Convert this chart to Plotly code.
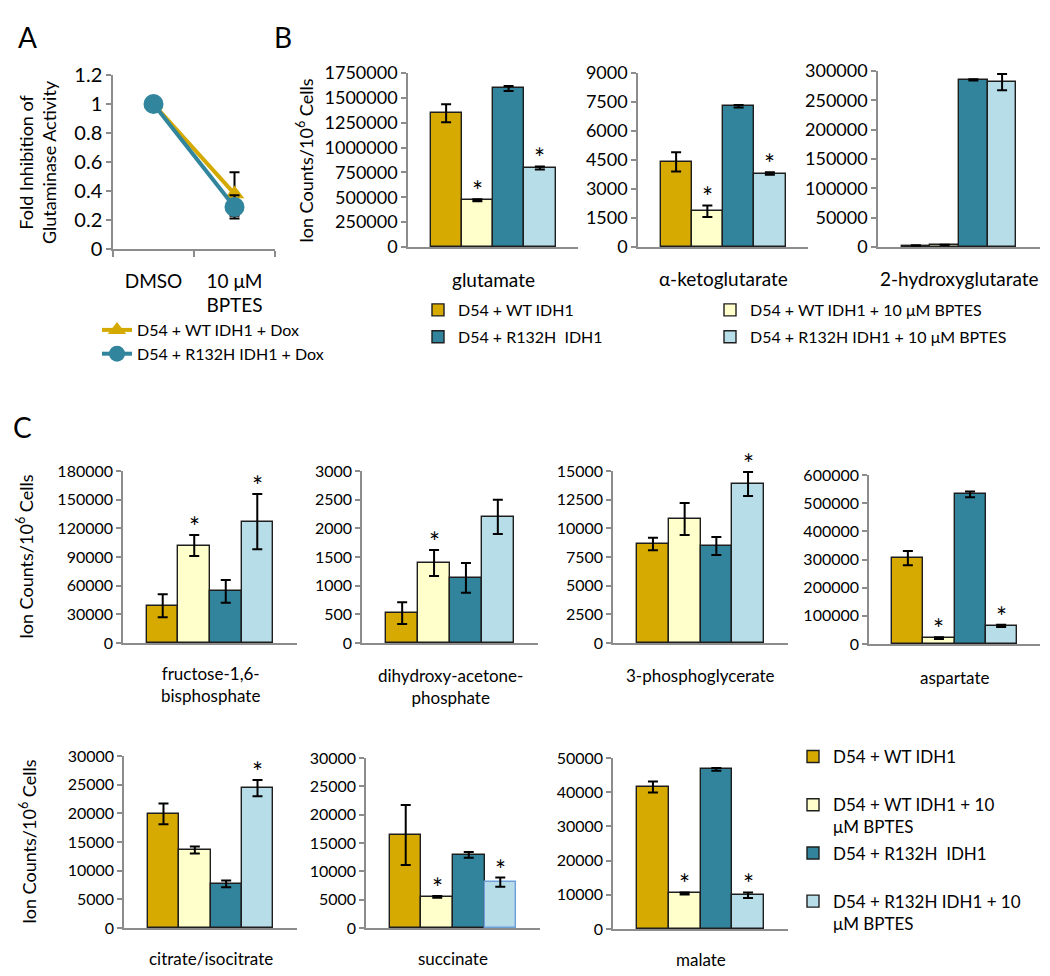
import plotly.graph_objects as go

W, H = 1050, 976
FONT = "Lato"
AXIS_GRAY = "#8c8c8c"

# ---------------- data ----------------
groups = ["D54 + WT IDH1", "D54 + WT IDH1 + 10 μM BPTES",
          "D54 + R132H  IDH1", "D54 + R132H IDH1 + 10 μM BPTES"]
c_legend_names = ["D54 + WT IDH1", "D54 + WT IDH1 + 10<br>μM BPTES",
                  "D54 + R132H  IDH1", "D54 + R132H IDH1 + 10<br>μM BPTES"]
group_colors = ["#D6AA00", "#FFFFCC", "#31849B", "#B7DEE8"]

# Panel A
a_conditions = ["DMSO", "10 μM BPTES"]
a_ticklabels = ["DMSO", "10 μM<br>BPTES"]
a_series = ["D54 + WT IDH1 + Dox", "D54 + R132H IDH1 + Dox"]
a_wt = [1.0, 0.38]
a_wt_err = [0.0, 0.15]
a_r132h = [1.0, 0.29]
a_r132h_err = [0.0, 0.08]

# Panel B
glutamate = [1345000, 470000, 1595000, 795000]
glutamate_err = [90000, 10000, 25000, 15000]
glutamate_sig = [0, 1, 0, 1]
akg = [4400, 1850, 7280, 3800]
akg_err = [500, 300, 60, 60]
akg_sig = [0, 1, 0, 1]
hg2 = [2500, 3500, 285000, 281000]
hg2_err = [300, 500, 1000, 14000]
hg2_sig = [0, 0, 0, 0]

# Panel C
f16bp = [39000, 102000, 54000, 127000]
f16bp_err = [12000, 11000, 12000, 29000]
f16bp_sig = [0, 1, 0, 1]
dhap = [520, 1395, 1135, 2200]
dhap_err = [190, 225, 260, 300]
dhap_sig = [0, 1, 0, 0]
pg3 = [8630, 10810, 8460, 13870]
pg3_err = [550, 1400, 780, 1050]
pg3_sig = [0, 0, 0, 1]
aspartate = [305000, 21000, 531000, 64000]
aspartate_err = [25000, 3000, 10000, 4000]
aspartate_sig = [0, 1, 0, 1]
citrate = [19900, 13600, 7700, 24400]
citrate_err = [1800, 600, 600, 1400]
citrate_sig = [0, 0, 0, 1]
succinate = [16400, 5500, 12900, 8100]
succinate_err = [5300, 150, 500, 800]
succinate_sig = [0, 1, 0, 1]
malate = [41500, 10400, 46700, 9900]
malate_err = [1600, 300, 400, 800]
malate_sig = [0, 1, 0, 1]

# ---------------- layout helpers ----------------
def dx(a, b):
    return [a / W, b / W]

def dy(top, bot):
    return [1 - bot / H, 1 - top / H]

def py(v):
    return 1 - v / H

fig = go.Figure()
layout = dict(
    width=W, height=H, autosize=False,
    margin=dict(l=0, r=0, t=0, b=0, pad=0, autoexpand=False),
    paper_bgcolor="white", plot_bgcolor="white",
    font=dict(family=FONT, color="black", size=16),
    barmode="overlay", bargap=0,
    showlegend=True,
)
annotations = []
shapes = []

# ---------------- Panel A ----------------
fig.add_trace(go.Scatter(
    x=a_conditions, y=a_wt, name=a_series[0], mode="lines+markers",
    line=dict(color="#D4AA00", width=4),
    marker=dict(symbol="triangle-up", size=17, color="#D4AA00"),
    error_y=dict(type="data", array=a_wt_err, color="black", thickness=2, width=5),
    xaxis="x", yaxis="y", legend="legend"))
fig.add_trace(go.Scatter(
    x=a_conditions, y=a_r132h, name=a_series[1], mode="lines+markers",
    line=dict(color="#31859C", width=4),
    marker=dict(symbol="circle", size=20, color="#31859C"),
    error_y=dict(type="data", array=a_r132h_err, color="black", thickness=2, width=5),
    xaxis="x", yaxis="y", legend="legend"))

layout["xaxis"] = dict(
    domain=dx(113, 275), anchor="y", type="category", automargin=False,
    categoryorder="array", categoryarray=a_conditions,
    tickvals=a_conditions, ticktext=a_ticklabels,
    range=[-0.5, 1.5], tickson="boundaries", ticks="outside", ticklen=6,
    tickcolor=AXIS_GRAY, tickwidth=1.5, showline=True, linecolor=AXIS_GRAY,
    linewidth=1.5, showgrid=False, zeroline=False, ticklabelstandoff=14,
    tickfont=dict(size=19, family=FONT))
layout["yaxis"] = dict(
    domain=dy(75, 249), anchor="x", range=[0, 1.2], dtick=0.2, tick0=0,
    automargin=False,
    ticks="outside", ticklen=5, tickcolor=AXIS_GRAY, tickwidth=1.5,
    showline=True, linecolor=AXIS_GRAY, linewidth=1.5, showgrid=False,
    zeroline=False, tickfont=dict(size=20, family=FONT))
layout["legend"] = dict(
    x=97 / W, y=py(313), xanchor="left", yanchor="top",
    font=dict(size=16, family=FONT), bgcolor="rgba(0,0,0,0)",
    tracegroupgap=0, itemclick=False, itemdoubleclick=False)

# ---------------- Bar panels ----------------
bar_panels = [
    dict(label="glutamate", means=glutamate, errs=glutamate_err, sig=glutamate_sig, ymax=1750000, dtick=250000),
    dict(label="α-ketoglutarate", means=akg, errs=akg_err, sig=akg_sig, ymax=9000, dtick=1500),
    dict(label="2-hydroxyglutarate", means=hg2, errs=hg2_err, sig=hg2_sig, ymax=300000, dtick=50000),
    dict(label="fructose-1,6-<br>bisphosphate", means=f16bp, errs=f16bp_err, sig=f16bp_sig, ymax=180000, dtick=30000),
    dict(label="dihydroxy-acetone-<br>phosphate", means=dhap, errs=dhap_err, sig=dhap_sig, ymax=3000, dtick=500),
    dict(label="3-phosphoglycerate", means=pg3, errs=pg3_err, sig=pg3_sig, ymax=15000, dtick=2500),
    dict(label="aspartate", means=aspartate, errs=aspartate_err, sig=aspartate_sig, ymax=600000, dtick=100000),
    dict(label="citrate/isocitrate", means=citrate, errs=citrate_err, sig=citrate_sig, ymax=30000, dtick=5000),
    dict(label="succinate", means=succinate, errs=succinate_err, sig=succinate_sig, ymax=30000, dtick=5000),
    dict(label="malate", means=malate, errs=malate_err, sig=malate_sig, ymax=50000, dtick=10000),
]
# positions (px): x0, x1, y_top, y_bottom, pad, tickfont, labelfont, label_y
bar_pos = [
    (408, 578, 73, 247, 0.72, 18, 19, 279),
    (638, 808, 73, 247, 0.72, 18, 19, 278),
    (878, 1040, 71, 247, 0.82, 18, 19, 278),
    (123, 297, 471, 643, 0.76, 16, 17, 684),
    (362, 538, 471, 643, 0.76, 16, 17, 686),
    (613, 788, 471, 643, 0.76, 16, 17, 675),
    (869, 1040, 475, 644, 0.75, 16, 17, 677),
    (124, 297, 756, 928, 0.76, 16, 17, 958),
    (366, 540, 758, 928, 0.76, 16, 17, 958),
    (613, 788, 758, 929, 0.76, 16, 17, 959),
]
# special outline (succinate, last bar has a blue border in the original)
special_outline = {(8, 3): "#6F9FD8"}

for k, (panel, pos) in enumerate(zip(bar_panels, bar_pos)):
    n = k + 2
    xa, ya = f"x{n}", f"y{n}"
    x0, x1, yt, yb, pad, tfs, lfs, ly = pos
    for gi, g in enumerate(groups):
        if k == 0:
            leg = "legend2" if gi in (0, 2) else "legend3"
            show = True
            lgroup = f"b{gi}"
            nm = g
        elif k == 3:
            leg = "legend4"
            show = True
            lgroup = f"c{gi}"
            nm = c_legend_names[gi]
            if "<br>" not in nm:
                nm = nm + "<br>\u00a0"
        else:
            leg = "legend2"
            show = False
            lgroup = f"b{gi}" if k < 3 else f"c{gi}"
            nm = g
        outline = special_outline.get((k, gi), "#1e1e1e")
        fig.add_trace(go.Bar(
            x=[g], y=[panel["means"][gi]], name=nm,
            marker=dict(color=group_colors[gi], line=dict(color=outline, width=1.4)),
            error_y=dict(type="data", array=[panel["errs"][gi]], color="black",
                         thickness=2, width=5),
            xaxis=xa, yaxis=ya, legend=leg, showlegend=show, legendgroup=lgroup))
        if panel["sig"][gi]:
            annotations.append(dict(
                x=g, y=panel["means"][gi] + panel["errs"][gi], xref=xa, yref=ya,
                text="*", showarrow=False, yanchor="bottom", yshift=-10,
                font=dict(size=26, family=FONT, color="black")))
    layout[f"xaxis{n}"] = dict(
        domain=dx(x0, x1), anchor=ya, type="category", automargin=False,
        categoryorder="array", categoryarray=groups,
        range=[-0.5 - pad, 3.5 + pad], showticklabels=False, ticks="",
        showline=True, linecolor=AXIS_GRAY, linewidth=1.5,
        showgrid=False, zeroline=False)
    layout[f"yaxis{n}"] = dict(
        domain=dy(yt, yb), anchor=xa, range=[0, panel["ymax"]],
        dtick=panel["dtick"], tick0=0, tickformat="d", automargin=False,
        ticks="outside", ticklen=5, tickcolor=AXIS_GRAY, tickwidth=1.5,
        showline=True, linecolor=AXIS_GRAY, linewidth=1.5, showgrid=False,
        zeroline=False, tickfont=dict(size=tfs, family=FONT))
    for xe in (0, 1):
        shapes.append(dict(
            type="line", xref=f"{xa} domain", yref=ya, x0=xe, x1=xe,
            ysizemode="pixel", yanchor=0, y0=0, y1=-7,
            line=dict(color=AXIS_GRAY, width=1.5)))
    annotations.append(dict(
        x=0.5, xref=f"{xa} domain", y=py(ly), yref="paper",
        text=panel["label"], showarrow=False, xanchor="center", yanchor="middle",
        font=dict(size=lfs, family=FONT, color="black")))

legend_common = dict(xanchor="left", yanchor="top", bgcolor="rgba(0,0,0,0)",
                     itemclick=False, itemdoubleclick=False,
                     traceorder="grouped")
layout["legend2"] = dict(x=418 / W, y=py(293), font=dict(size=16, family=FONT),
                         tracegroupgap=3, **legend_common)
layout["legend3"] = dict(x=710 / W, y=py(293), font=dict(size=16, family=FONT),
                         tracegroupgap=3, **legend_common)
layout["legend4"] = dict(x=793 / W, y=py(739), font=dict(size=17, family=FONT),
                         tracegroupgap=1, valign="top", **legend_common)

# ---------------- titles / panel letters ----------------
def text_ann(x, y, text, size, angle=0):
    annotations.append(dict(
        x=x / W, y=py(y), xref="paper", yref="paper", text=text, showarrow=False,
        xanchor="center", yanchor="middle", textangle=angle,
        font=dict(size=size, family=FONT, color="black")))

text_ann(27, 37, "A", 28)
text_ann(283, 37, "B", 28)
text_ann(22, 427, "C", 28)
text_ann(38, 162, "Fold Inhibition of<br>Glutaminase Activity", 18, -90)
ion = "Ion Counts/10<sup>6</sup> Cells"
text_ann(305, 161, ion, 18, -90)
text_ann(25, 557, ion, 18, -90)
text_ann(28, 842, ion, 18, -90)

layout["annotations"] = annotations
layout["shapes"] = shapes
fig.update_layout(**layout)

fig.write_html("out.html",
               config={"displayModeBar": False},
               post_script="document.body.style.margin='0px';document.body.style.overflow='hidden';")
